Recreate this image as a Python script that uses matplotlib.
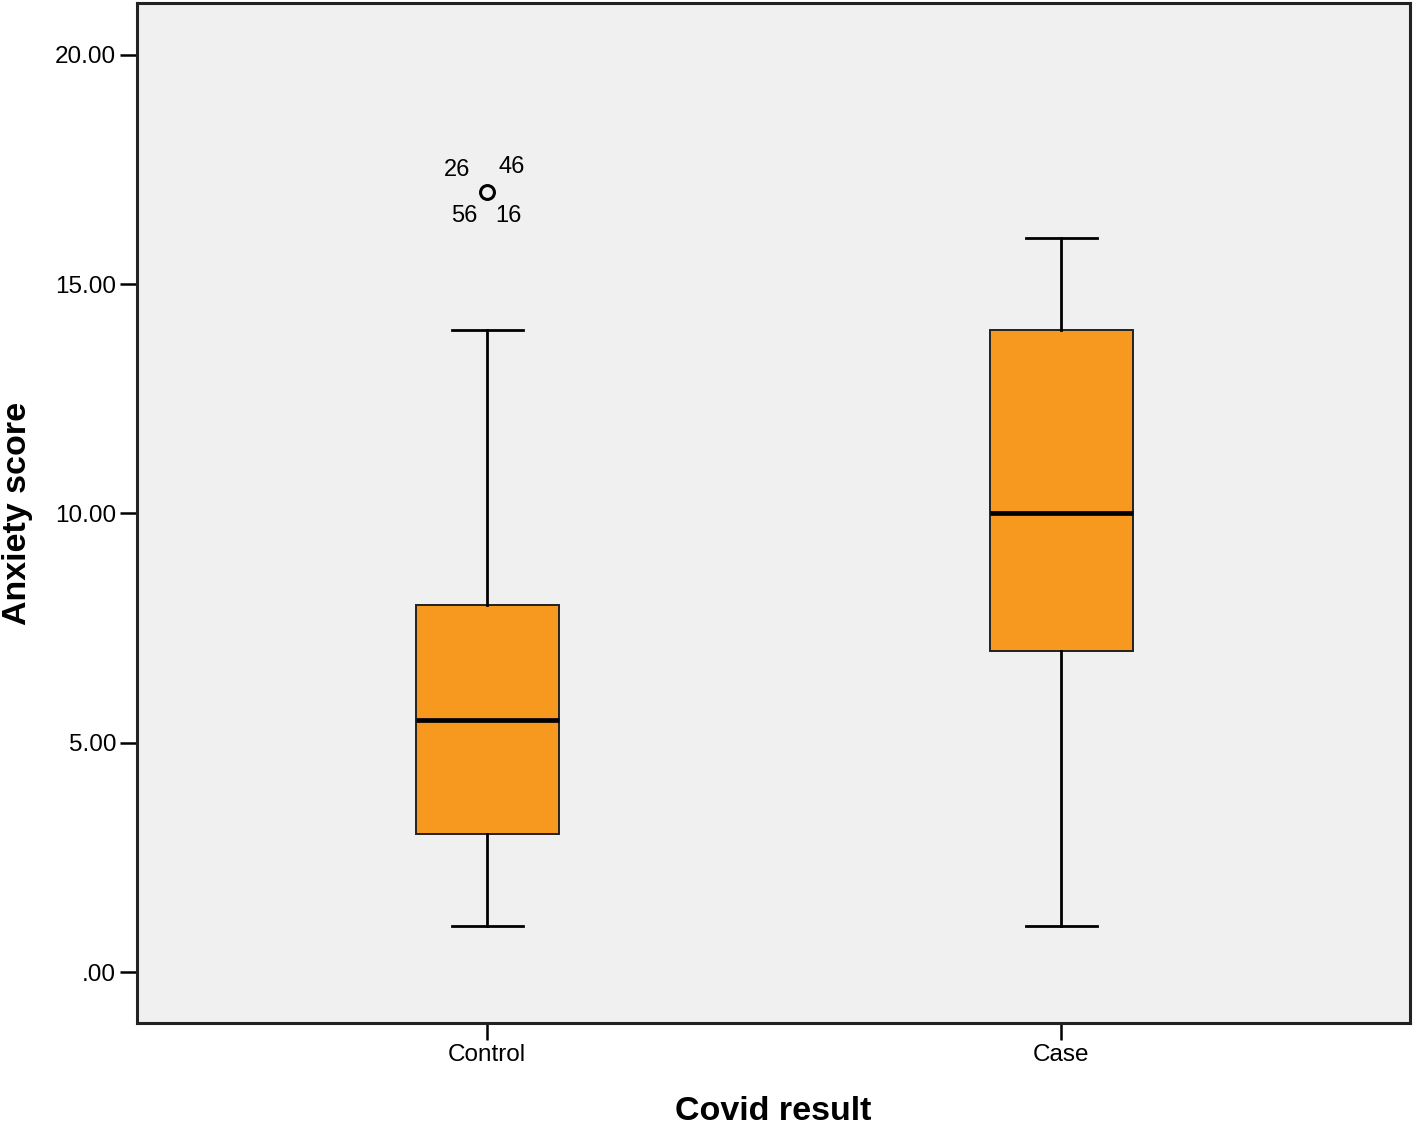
import matplotlib.pyplot as plt

plt.rcParams['font.family'] = ['Liberation Sans', 'DejaVu Sans']

# Datos
groups = ['Control', 'Case']
whislo = [1.0, 1.0]
q1 = [3.0, 7.0]
med = [5.5, 10.0]
q3 = [8.0, 14.0]
whishi = [14.0, 16.0]
outliers = [[17.0], []]
outlier_ids = ['26', '46', '56', '16']
yticks = [0, 5, 10, 15, 20]
ytick_labels = ['.00', '5.00', '10.00', '15.00', '20.00']

FILL = '#F7991F'
BG = '#F0F0F0'


def main():
    fig = plt.figure(figsize=(14.16, 11.26), dpi=100)
    ax = fig.add_axes([0.0968, 0.0915, 0.8990, 0.9058])
    ax.set_facecolor(BG)

    stats = []
    for i, g in enumerate(groups):
        stats.append({'label': g, 'whislo': whislo[i], 'q1': q1[i], 'med': med[i],
                      'q3': q3[i], 'whishi': whishi[i], 'fliers': outliers[i]})

    ax.bxp(stats, positions=[1, 2], widths=0.249, patch_artist=True,
           boxprops=dict(facecolor=FILL, edgecolor='#222222', linewidth=1.4),
           medianprops=dict(color='black', linewidth=3.4),
           whiskerprops=dict(color='black', linewidth=2.0),
           capprops=dict(color='black', linewidth=2.0),
           capwidths=0.124,
           flierprops=dict(marker='o', markersize=10, markerfacecolor='none',
                           markeredgecolor='black', markeredgewidth=2.2))

    # Etiquetas de los casos atipicos
    offsets = [(-21.6, 15.8), (17.3, 18.0), (-16.6, -17.3), (15.0, -17.3)]
    for lab, off in zip(outlier_ids, offsets):
        ax.annotate(lab, xy=(1, outliers[0][0]), xytext=off, textcoords='offset points',
                    ha='center', va='center', fontsize=17)

    ax.set_xlim(0.39, 2.608)
    ax.set_ylim(-1.11, 21.13)
    ax.set_yticks(yticks)
    ax.set_yticklabels(ytick_labels)
    ax.set_xticks([1, 2])
    ax.set_xticklabels(groups)

    ax.tick_params(axis='both', direction='out', length=12, width=1.8,
                   labelsize=17.5, colors='black', pad=3)
    for sp in ax.spines.values():
        sp.set_linewidth(2.2)
        sp.set_color('#222222')

    ax.set_xlabel('Covid result', fontsize=24.5, fontweight='bold', labelpad=22)
    ax.set_ylabel('Anxiety score', fontsize=24.5, fontweight='bold')
    ax.yaxis.set_label_coords(-0.082, 0.5)

    fig.savefig('out.png', dpi=100)
    plt.close(fig)


if __name__ == '__main__':
    main()
